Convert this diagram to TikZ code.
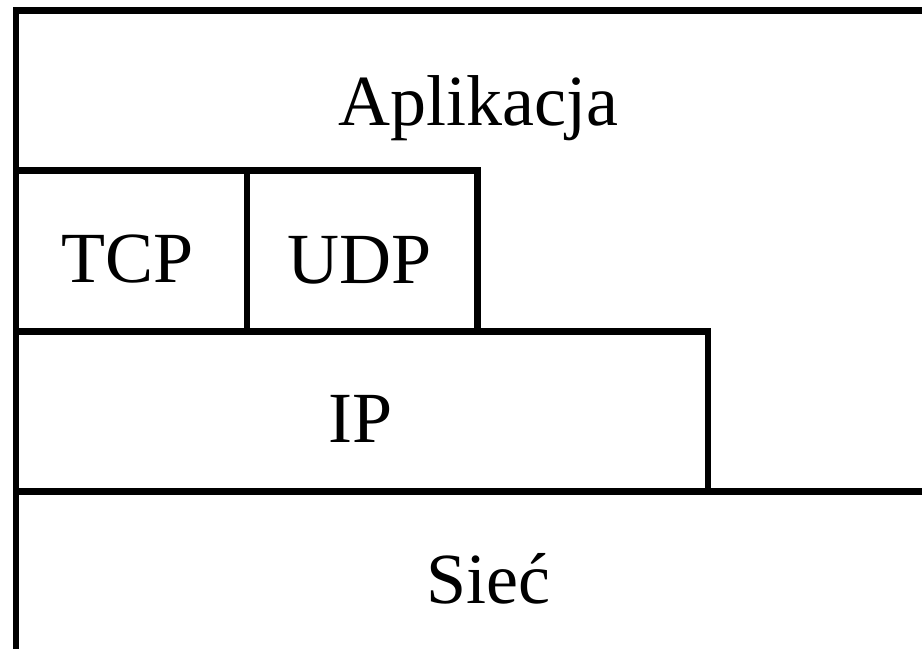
\documentclass[tikz,border=0pt]{standalone}
\usepackage{fontspec}
\setmainfont{Liberation Serif}
\begin{document}
\begin{tikzpicture}[x=1pt,y=-1pt,
  rule/.style={line width=6.5pt,line join=miter,line cap=butt},
  label/.style={anchor=base,inner sep=0pt,font=\fontsize{72}{80}\selectfont}]
\useasboundingbox (0,0) rectangle (922,649);
\fill[white] (0,0) rectangle (922,649);
% frame and layer borders
\coordinate (tr) at (922,10.5);
\coordinate (tl) at (16,10.5);
\coordinate (bl) at (16,649);
\draw[rule] (tr) -- (tl) -- (bl);
\coordinate (t1) at (16,170.5);
\coordinate (t2) at (477.5,170.5);
\coordinate (t3) at (477.5,331.5);
\draw[rule] (t1) -- (t2) -- (t3);
\coordinate (d1) at (247,170.5);
\coordinate (d2) at (247,331.5);
\draw[rule] (d1) -- (d2);
\coordinate (i1) at (16,331.5);
\coordinate (i2) at (708,331.5);
\coordinate (i3) at (708,491.5);
\draw[rule] (i1) -- (i2) -- (i3);
\coordinate (s1) at (16,491.5);
\coordinate (s2) at (922,491.5);
\draw[rule] (s1) -- (s2);
% labels
\node[label] (app) at (478,125) {Aplikacja};
\node[label] (tcp) at (128,282) {TCP};
\node[label] (udp) at (360,283) {UDP};
\node[label] (ip) at (361,442) {IP};
\node[label] (siec) at (488,603) {Sieć};
\end{tikzpicture}
\end{document}
